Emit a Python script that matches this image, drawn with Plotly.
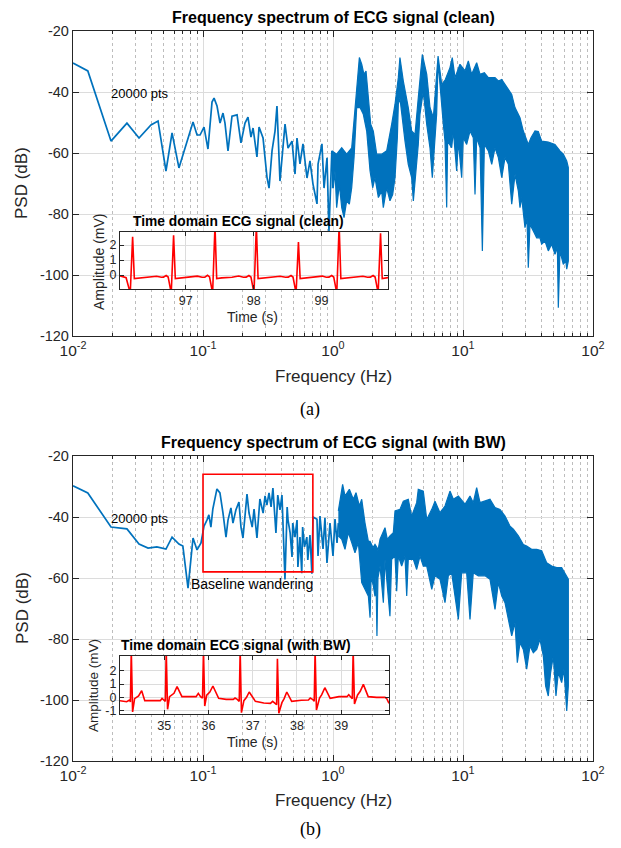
import plotly.graph_objects as go

# ---------------- data: clean spectrum ----------------
clean_line_f = [0.0100, 0.0130, 0.0196, 0.0260, 0.0322, 0.0398, 0.0451, 0.0519, 0.0578, 0.0653,
                0.0838, 0.0900, 0.0949, 0.1018, 0.1092, 0.1173, 0.1216, 0.1282, 0.1352, 0.1425,
                0.1476, 0.1557, 0.1671, 0.1828, 0.1959, 0.2104, 0.2218, 0.2339, 0.2427, 0.2600,
                0.2698, 0.2897, 0.3105, 0.3221, 0.3396, 0.3581, 0.3707, 0.3909, 0.4055, 0.4276,
                0.4508, 0.4840, 0.5103, 0.5284, 0.5572, 0.5875, 0.6310, 0.6653, 0.7015, 0.7532,
                0.7674, 0.8222, 0.8531, 0.8995, 0.9311, 0.9800]
clean_line_db = [-30.5, -33.1, -56.1, -50.2, -55.1, -50.8, -49.5, -65.9, -53.4, -64.9,
                 -49.8, -54.1, -54.1, -51.5, -58.7, -43.3, -42.0, -44.6, -50.2, -46.9,
                 -50.2, -59.3, -47.9, -47.5, -56.7, -50.2, -48.2, -54.8, -51.8, -61.3,
                 -51.5, -55.1, -67.9, -71.5, -59.3, -52.8, -44.6, -69.2, -61.6, -50.5,
                 -58.4, -56.1, -66.9, -55.1, -63.6, -57.0, -68.2, -62.6, -70.2, -76.7,
                 -63.6, -57.0, -71.5, -61.6, -85.6, -59.3]

clean_up_f = [0.980, 1.067, 1.167, 1.274, 1.393, 1.452, 1.521, 1.595, 1.663, 1.730,
              1.795, 1.871, 1.950, 2.042, 2.168, 2.368, 2.588, 2.826, 2.999, 3.180,
              3.273, 3.475, 3.793, 4.027, 4.276, 4.529, 4.864, 5.26, 5.572, 5.916,
              6.27, 6.43, 6.86, 7.3, 7.94, 8.27, 8.68, 9.48, 10.36, 10.99,
              11.66, 12.74, 13.52, 14.6, 15.67, 17.63, 18.71, 19.86, 21.04, 22.33,
              23.70, 25.12, 27.44, 29.10, 30.90, 31.79, 33.34, 35.79, 37.96, 40.27,
              45.31, 51.0, 55.7, 59.1, 62.8, 64.6]
clean_up_db = [-59.3, -60.4, -58.3, -60.4, -58.3, -48.4, -39.7, -28.7, -30.9, -34.2,
               -33.1, -41.9, -50.6, -52.8, -60.4, -60.4, -59.3, -50.6, -44.0, -35.3,
               -28.7, -36.4, -45.1, -52.8, -53.9, -41.9, -27.7, -34.2, -45.1, -48.4,
               -33.1, -28.2, -37.5, -36.0, -32.0, -28.7, -35.3, -30.9, -33.1, -29.8,
               -34.2, -30.4, -34.2, -33.7, -35.3, -35.3, -36.4, -35.9, -37.5, -39.1,
               -40.8, -45.1, -48.4, -52.8, -56.1, -57.2, -55.0, -52.8, -53.0, -56.1,
               -56.4, -57.2, -59.3, -60.4, -62.6, -64.8]
clean_lo_f = [0.980, 1.006, 1.036, 1.067, 1.119, 1.167, 1.216, 1.274, 1.336, 1.393,
              1.452, 1.521, 1.614, 1.711, 1.816, 1.928, 2.020, 2.104, 2.234, 2.368,
              2.438, 2.588, 2.742, 2.877, 2.999, 3.126, 3.180, 3.273, 3.375, 3.58,
              3.793, 4.027, 4.15, 4.276, 4.529, 4.667, 4.95, 5.26, 5.572, 5.808,
              6.01, 6.27, 6.43, 6.65, 7.06, 7.27, 7.49, 7.62, 8.18, 8.43,
              8.94, 9.21, 9.77, 10.05, 10.67, 11.32, 12.0, 12.37, 12.74, 13.52,
              14.09, 14.6, 15.67, 16.63, 17.63, 18.71, 19.86, 21.04, 22.33, 23.70,
              25.12, 26.66, 27.44, 28.27, 29.10, 29.98, 31.05, 31.79, 32.75, 34.75,
              36.87, 39.10, 40.27, 42.72, 45.31, 48.07, 51.0, 53.2, 54.1, 55.7,
              59.1, 61.7, 62.8, 64.6]
clean_lo_db = [-71.4, -71.4, -65.9, -77.9, -70.3, -77.9, -81.2, -75.7, -76.8, -71.4,
               -61.5, -45.1, -45.1, -47.3, -52.8, -65.9, -71.4, -68.1, -74.6, -72.5,
               -77.9, -71.4, -75.7, -73.6, -68.1, -55.0, -44.0, -42.0, -47.3, -56.1,
               -63.7, -68.1, -75.7, -68.1, -57.2, -47.3, -39.7, -50.6, -58.3, -68.1,
               -58.3, -47.3, -30.0, -36.4, -50.6, -56.1, -77.9, -56.1, -58.3, -52.8,
               -65.9, -56.1, -68.1, -55.0, -57.2, -52.8, -55.0, -73.6, -55.0, -58.3,
               -92.1, -57.2, -59.3, -63.7, -58.3, -61.5, -68.1, -61.5, -63.7, -76.8,
               -67.0, -72.5, -77.9, -74.6, -79.0, -84.5, -81.2, -97.6, -83.4, -85.6,
               -87.8, -87.8, -89.9, -88.9, -92.1, -89.9, -93.2, -91.0, -110.7, -92.1,
               -96.5, -95.4, -98.1, -95.4]

# ---------------- data: spectrum with baseline wandering ----------------
bw_line_f = [0.0100, 0.0130, 0.0196, 0.0260, 0.0322, 0.0378, 0.0442, 0.0519, 0.0578, 0.0653,
             0.0700, 0.0767, 0.0838, 0.0900, 0.0965, 0.1018, 0.1072, 0.1110, 0.1150, 0.1190,
             0.1280, 0.1350, 0.1425, 0.1503, 0.1557, 0.1640, 0.1700, 0.1790, 0.1890, 0.1960,
             0.2030, 0.2180, 0.2260, 0.2390, 0.2470, 0.2600, 0.2740, 0.2900, 0.3000, 0.3100,
             0.3220, 0.3340, 0.3450, 0.3510, 0.3640, 0.3760, 0.3910, 0.4050, 0.4120, 0.4270,
             0.4440, 0.4510, 0.4680, 0.4840, 0.4900, 0.5100, 0.5290, 0.5370, 0.5570, 0.5750,
             0.5840, 0.6040, 0.6290, 0.6400, 0.6650, 0.6880, 0.7020, 0.7530, 0.7670, 0.7940,
             0.8380, 0.8670, 0.8990, 0.9480, 1.000, 1.036, 1.074, 1.099]
bw_line_db = [-29.8, -32.1, -43.3, -43.9, -48.9, -50.2, -49.8, -50.5, -46.6, -48.9,
              -49.5, -63.3, -46.9, -50.8, -48.5, -43.0, -41.0, -39.3, -43.3, -37.4,
              -30.8, -32.1, -38.7, -46.6, -41.0, -37.0, -42.0, -37.7, -35.1, -43.3,
              -46.9, -32.5, -38.7, -43.3, -37.4, -46.9, -34.1, -38.7, -33.1, -36.1,
              -32.1, -36.7, -30.5, -35.4, -45.2, -32.8, -37.7, -32.8, -40.0, -60.5,
              -36.7, -41.0, -45.2, -53.1, -42.0, -46.6, -41.0, -56.4, -46.6, -58.4,
              -43.3, -49.8, -46.6, -54.1, -45.9, -58.6, -40.0, -40.7, -52.8, -39.7,
              -50.5, -40.3, -55.1, -42.0, -52.8, -40.7, -48.5, -42.0]

bw_up_f = [1.099, 1.186, 1.237, 1.336, 1.433, 1.503, 1.595, 1.663, 1.762, 1.871,
           1.928, 2.032, 2.104, 2.178, 2.217, 2.301, 2.512, 2.617, 2.742, 2.911,
           2.999, 3.273, 3.475, 3.793, 4.027, 4.402, 4.529, 4.95, 5.26, 5.75,
           6.09, 6.65, 7.27, 7.94, 8.43, 9.21, 10.36, 11.32, 12.0, 12.74,
           13.52, 14.77, 16.13, 17.63, 19.27, 21.04, 23.0, 24.4, 26.66, 29.1,
           30.9, 33.7, 36.9, 40.3, 44.0, 48.1, 52.6, 57.4, 60.9, 64.6]
bw_up_db = [-38.0, -29.3, -33.1, -30.9, -34.2, -32.0, -36.4, -34.2, -41.9, -48.0,
            -48.0, -50.0, -49.0, -50.0, -51.0, -47.3, -43.5, -47.3, -46.2, -45.1,
            -38.0, -37.5, -34.8, -34.2, -39.7, -35.3, -30.9, -31.5, -40.8, -37.5,
            -34.8, -38.6, -36.4, -31.5, -34.2, -33.1, -35.8, -33.1, -35.3, -30.4,
            -35.3, -34.8, -34.2, -36.9, -37.5, -39.7, -43.0, -44.0, -46.2, -49.0,
            -49.5, -50.6, -50.6, -51.1, -55.0, -56.1, -56.6, -56.6, -58.3, -60.4]
bw_lo_f = [1.099, 1.167, 1.237, 1.312, 1.393, 1.476, 1.567, 1.663, 1.762, 1.871,
           1.928, 1.963, 2.032, 2.104, 2.141, 2.178, 2.217, 2.301, 2.44, 2.512,
           2.742, 2.826, 2.999, 3.09, 3.18, 3.375, 3.58, 3.69, 3.793, 4.15,
           4.402, 4.67, 4.95, 5.26, 5.75, 6.09, 6.65, 7.27, 7.71, 8.18,
           8.68, 9.21, 9.77, 10.67, 11.32, 12.0, 13.12, 14.77, 16.13, 17.63,
           18.71, 19.86, 21.04, 22.33, 23.70, 25.12, 26.17, 27.44, 29.1, 30.9,
           32.75, 34.75, 36.9, 39.1, 41.5, 43.2, 45.3, 47.2, 49.5, 51.9,
           54.1, 57.4, 59.8, 62.8, 64.6]
bw_lo_db = [-46.2, -47.3, -50.6, -45.1, -48.4, -51.7, -48.4, -61.5, -63.7, -66.0,
            -73.0, -60.0, -62.0, -66.0, -60.0, -79.0, -60.0, -56.1, -68.1, -53.9,
            -72.5, -53.9, -52.8, -64.3, -52.8, -56.1, -52.8, -65.9, -53.9, -53.9,
            -57.2, -52.8, -56.1, -56.1, -63.7, -59.3, -60.4, -68.1, -59.3, -58.3,
            -65.9, -73.6, -58.3, -58.3, -73.6, -58.3, -59.3, -59.3, -60.4, -70.3,
            -61.5, -65.9, -68.1, -73.6, -79.0, -74.6, -87.8, -81.2, -83.4, -89.9,
            -82.3, -84.5, -83.4, -80.1, -85.6, -95.4, -98.7, -91.0, -85.6, -98.7,
            -91.0, -94.3, -89.9, -103.6, -95.4]

# ---------------- data: time-domain ECG ----------------
ecg_clean_t = [96.03, 96.07, 96.12, 96.181, 96.216, 96.241, 96.32, 96.47, 96.57, 96.64,
               96.67, 96.71, 96.74, 96.785, 96.82, 96.845, 96.92, 97.07, 97.17, 97.24,
               97.28, 97.32, 97.35, 97.395, 97.43, 97.455, 97.53, 97.68, 97.78, 97.85,
               97.89, 97.93, 97.96, 98.005, 98.04, 98.065, 98.14, 98.29, 98.39, 98.47,
               98.51, 98.55, 98.58, 98.625, 98.66, 98.685, 98.76, 98.91, 99.01, 99.07,
               99.11, 99.15, 99.18, 99.225, 99.26, 99.285, 99.36, 99.51, 99.61, 99.68,
               99.72, 99.76, 99.79, 99.835, 99.87, 99.895, 99.94, 99.98]
ecg_clean_v = [-0.05, -0.12, -0.18, -1.2, 2.55, -0.24, -0.2, -0.15, -0.08, -0.15,
               -0.14, -0.03, -0.13, -1.2, 2.65, -0.24, -0.2, -0.16, -0.07, -0.15,
               -0.14, -0.02, -0.13, -1.2, 3.3, -0.24, -0.19, -0.15, -0.06, -0.15,
               -0.14, -0.03, -0.13, -1.2, 3.3, -0.24, -0.2, -0.15, -0.08, -0.15,
               -0.14, -0.03, -0.13, -1.2, 2.2, -0.24, -0.2, -0.16, -0.07, -0.15,
               -0.14, -0.03, -0.13, -1.2, 3.3, -0.24, -0.2, -0.15, -0.08, -0.15,
               -0.14, -0.03, -0.13, -1.2, 2.78, -0.24, -0.2, -0.17]

ecg_bw_t = [34.00, 34.15, 34.22, 34.235, 34.255, 34.285, 34.33, 34.42, 34.49, 34.56,
            34.75, 34.91, 34.95, 34.99, 35.025, 35.045, 35.075, 35.12, 35.22, 35.29,
            35.40, 35.60, 35.72, 35.77, 35.82, 35.865, 35.887, 35.915, 35.96, 36.03,
            36.10, 36.23, 36.40, 36.56, 36.60, 36.65, 36.695, 36.716, 36.745, 36.80,
            36.86, 36.92, 37.06, 37.25, 37.40, 37.45, 37.50, 37.54, 37.558, 37.59,
            37.66, 37.71, 37.77, 37.88, 38.10, 38.26, 38.30, 38.35, 38.39, 38.41,
            38.44, 38.51, 38.56, 38.63, 38.75, 38.95, 39.13, 39.17, 39.22, 39.25,
            39.27, 39.30, 39.37, 39.43, 39.50, 39.61, 39.80, 39.99, 40.03, 40.08]
ecg_bw_v = [-0.25, -0.33, -0.2, -0.35, 3.5, -1.1, -0.1, 0.1, 0.5, -0.25,
            -0.25, -0.25, -0.08, -0.2, -0.3, 3.5, -0.9, 0.05, 0.3, 0.8,
            0.05, 0.05, 0.05, 0.3, 0.05, -0.05, 3.5, -0.65, 0.17, 0.4,
            0.85, -0.07, -0.15, -0.15, -0.05, -0.15, -0.3, 3.5, -1.15, -0.25,
            0.0, 0.4, -0.3, -0.42, -0.45, -0.3, -0.45, -0.55, 2.9, -1.2,
            -0.4, -0.1, 0.4, -0.3, -0.22, -0.2, -0.05, -0.15, -0.3, 3.5,
            -0.95, -0.05, 0.2, 0.72, -0.08, 0.05, 0.05, 0.2, 0.0, -0.1,
            3.5, -0.5, 0.18, 0.45, 0.97, 0.05, 0.0, 0.0, -0.1, -0.45]

# ---------------- tick labels ----------------
major_f = [0.01, 0.1, 1, 10, 100]
major_f_text = ["10<sup>-2</sup>", "10<sup>-1</sup>", "10<sup>0</sup>", "10<sup>1</sup>", "10<sup>2</sup>"]
minor_f = [k * 10.0 ** e for e in (-2, -1, 0, 1) for k in range(2, 10)]
psd_ticks = [-120, -100, -80, -60, -40, -20]
psd_text = ["-120", "-100", "-80", "-60", "-40", "-20"]
amp_ticks_bw = [-1, 0, 1, 2]
amp_text_bw = ["-1", "0", "1", "2"]

# The page body has an 8 px margin; the figure fills the rest of the 621x848 window.
OFF = 8
W, H = 621 - 2 * OFF, 848 - 2 * OFF
def PX(x):
    return (x - OFF) / W
def PY(y):
    return 1 - (y - OFF) / H

BLUE = "#0072BD"
FONT = "Liberation Sans, Arial, sans-serif"
AX = "#262626"

fig = go.Figure()

fig.add_trace(go.Scatter(x=clean_line_f, y=clean_line_db, mode="lines",
                         line=dict(color=BLUE, width=1.7), xaxis="x", yaxis="y"))
fig.add_trace(go.Scatter(x=clean_up_f + clean_lo_f[::-1], y=clean_up_db + clean_lo_db[::-1],
                         mode="lines", fill="toself", fillcolor=BLUE,
                         line=dict(color=BLUE, width=1.2), xaxis="x", yaxis="y"))
fig.add_trace(go.Scatter(x=ecg_clean_t, y=ecg_clean_v, mode="lines",
                         line=dict(color="#FF0000", width=1.6), xaxis="x2", yaxis="y2"))
fig.add_trace(go.Scatter(x=bw_line_f, y=bw_line_db, mode="lines",
                         line=dict(color=BLUE, width=1.7), xaxis="x3", yaxis="y3"))
fig.add_trace(go.Scatter(x=bw_up_f + bw_lo_f[::-1], y=bw_up_db + bw_lo_db[::-1],
                         mode="lines", fill="toself", fillcolor=BLUE,
                         line=dict(color=BLUE, width=1.2), xaxis="x3", yaxis="y3"))
fig.add_trace(go.Scatter(x=ecg_bw_t, y=ecg_bw_v, mode="lines",
                         line=dict(color="#FF0000", width=1.6), xaxis="x4", yaxis="y4"))


def main_x(anchor, dom):
    return dict(domain=dom, anchor=anchor, type="log", range=[-2, 2], automargin=False,
                tickmode="array", tickvals=major_f, ticktext=major_f_text,
                ticks="inside", ticklen=6, tickwidth=1, tickcolor=AX,
                showline=True, linecolor=AX, linewidth=1.3, mirror="allticks",
                showgrid=True, gridcolor="#dcdcdc", gridwidth=1, zeroline=False,
                tickfont=dict(family=FONT, size=15.5, color=AX),
                minor=dict(tickmode="array", tickvals=minor_f, ticks="inside", ticklen=3,
                           tickcolor=AX, showgrid=True, gridcolor="#bdbdbd",
                           griddash="dot", gridwidth=1))


def main_y(anchor, dom):
    return dict(domain=dom, anchor=anchor, range=[-120, -20], automargin=False,
                tickmode="array", tickvals=psd_ticks, ticktext=psd_text,
                ticks="inside", ticklen=6, tickcolor=AX,
                showline=True, linecolor=AX, linewidth=1.3, mirror="allticks",
                showgrid=True, gridcolor="#dcdcdc", gridwidth=1, zeroline=False,
                tickfont=dict(family=FONT, size=14.5, color=AX))


def inset_ax(anchor, dom, rng, vals, text):
    return dict(domain=dom, anchor=anchor, range=rng, automargin=False,
                tickmode="array", tickvals=vals, ticktext=text,
                ticks="inside", ticklen=4, tickcolor=AX,
                showline=True, linecolor=AX, linewidth=1.2, mirror="allticks",
                showgrid=True, gridcolor="#dcdcdc", zeroline=False,
                tickfont=dict(family=FONT, size=12.5, color=AX))


main_dom_x = [PX(73), PX(593)]

fig.update_layout(
    width=W, height=H, margin=dict(l=0, r=0, t=0, b=0, pad=0, autoexpand=False),
    paper_bgcolor="white", plot_bgcolor="white", showlegend=False,
    xaxis=main_x("y", main_dom_x), yaxis=main_y("x", [PY(336), PY(31)]),
    xaxis2=inset_ax("y2", [PX(120), PX(388)], [96.03, 99.98], [97, 98, 99], ["97", "98", "99"]),
    yaxis2=inset_ax("x2", [PY(289), PY(232)], [-0.93, 2.87], [0, 1, 2], ["0", "1", "2"]),
    xaxis3=main_x("y3", main_dom_x), yaxis3=main_y("x3", [PY(761), PY(456)]),
    xaxis4=inset_ax("y4", [PX(120), PX(389)], [34.0, 40.08], [35, 36, 37, 38, 39],
                    ["35", "36", "37", "38", "39"]),
    yaxis4=inset_ax("x4", [PY(714), PY(656)], [-1.25, 3.1], amp_ticks_bw, amp_text_bw),
)

fig.add_shape(type="rect", xref="x3", yref="y3", x0=0.1, x1=0.7, y0=-58, y1=-26,
              line=dict(color="#FF0000", width=1.6), fillcolor="rgba(0,0,0,0)")


def txt(text, x, y, size, bold=False, angle=0, family=FONT, color="black"):
    fig.add_annotation(text=("<b>%s</b>" % text) if bold else text, x=PX(x), y=PY(y),
                       xref="paper", yref="paper", showarrow=False, textangle=angle,
                       xanchor="center", yanchor="middle", borderpad=0,
                       font=dict(family=family, size=size, color=color))


txt("Frequency spectrum of ECG signal (clean)", 333, 17, 16, bold=True)
txt("Frequency spectrum of ECG signal (with BW)", 333, 442, 16, bold=True)
txt("PSD (dB)", 22, 183, 17, angle=-90, color=AX)
txt("PSD (dB)", 22, 608, 17, angle=-90, color=AX)
txt("Frequency (Hz)", 333, 376, 17, color=AX)
txt("Frequency (Hz)", 333, 800, 17, color=AX)
txt("(a)", 310, 410, 18, family="Liberation Serif, Times New Roman, serif")
txt("(b)", 310, 829, 18, family="Liberation Serif, Times New Roman, serif")
txt("20000 pts", 140, 93, 13)
txt("20000 pts", 140, 518, 13)
txt("Baseline wandering", 252, 584, 14)
txt("Time domain ECG signal (clean)", 238, 222, 13.8, bold=True)
txt("Time domain ECG signal (with BW)", 236, 645, 13.8, bold=True)
txt("Amplitude (mV)", 99, 262, 14, angle=-90, color=AX)
txt("Amplitude (mV)", 93, 686, 13.5, angle=-90, color=AX)
txt("Time (s)", 252, 317, 14, color=AX)
txt("Time (s)", 252, 742, 14, color=AX)

fig.write_html("out.html")
